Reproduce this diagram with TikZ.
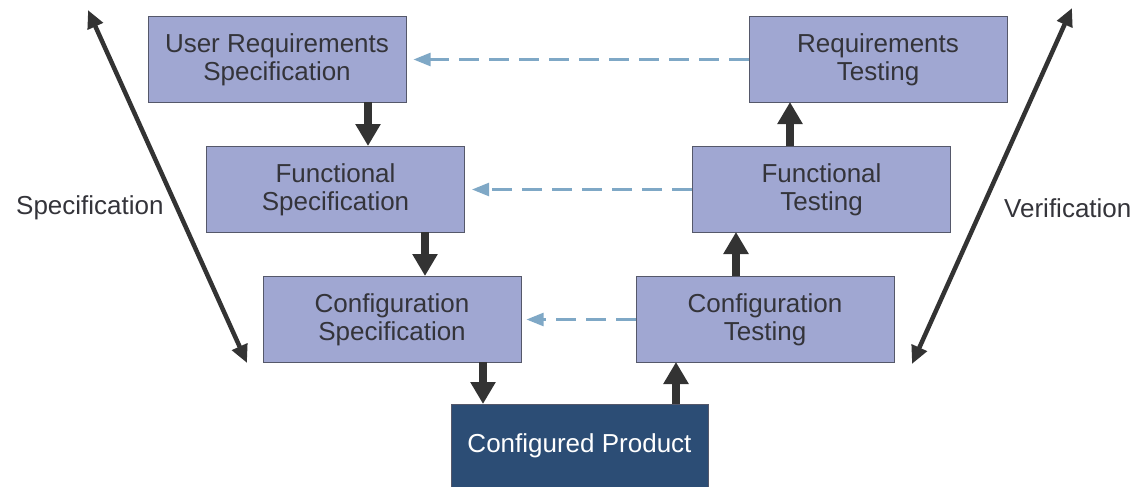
\documentclass[tikz,border=0pt]{standalone}
\usepackage{fontspec}
\setmainfont{Liberation Sans}
\usetikzlibrary{arrows.meta}
\definecolor{boxfill}{HTML}{A0A7D2}
\definecolor{boxline}{HTML}{55586A}
\definecolor{darkfill}{HTML}{2C4D75}
\definecolor{dashcol}{HTML}{7FA8C6}
\definecolor{arrcol}{HTML}{333333}
\definecolor{txtcol}{HTML}{34343A}
\tikzset{
  stagebox/.style={draw=boxline, line width=1pt, fill=boxfill, minimum width=258pt, minimum height=86pt,
    inner sep=0pt, align=center, text=txtcol, font=\fontsize{26}{28}\selectfont},
  prodbox/.style={draw=boxline, line width=1pt, fill=darkfill, minimum width=257pt, minimum height=84pt,
    inner sep=0pt, align=center, text=white, font=\fontsize{26}{28}\selectfont},
  blockarrow/.style={draw=arrcol, line width=8pt, -{Triangle[width=24pt,length=22pt]}, arrcol},
  trace/.style={draw=dashcol, line width=2.4pt, dash pattern=on 20pt off 10pt, -{Triangle[width=13pt,length=17pt]}, dashcol},
  phase/.style={draw=arrcol, line width=4.5pt, {Triangle[width=16pt,length=18pt]}-{Triangle[width=16pt,length=18pt]}, arrcol},
  sidelabel/.style={text=txtcol, font=\fontsize{26}{28}\selectfont, inner sep=0pt}
}
\begin{document}
\begin{tikzpicture}[x=1pt,y=-1pt]
\useasboundingbox (0,0) rectangle (1136,487);
\node[stagebox] (urs) at (277,59.5) {User Requirements\\Specification};
\node[stagebox] (fs)  at (335.5,189.5) {Functional\\Specification};
\node[stagebox] (cs)  at (392,319.5) {Configuration\\Specification};
\node[stagebox] (rt)  at (878,59.5) {Requirements\\Testing};
\node[stagebox] (ft)  at (821.5,189.5) {Functional\\Testing};
\node[stagebox] (ct)  at (765,319.5) {Configuration\\Testing};
\node[prodbox, minimum height=90pt] (cp) at (579.5,449) {};
\node[text=white, font=\fontsize{26}{28}\selectfont, inner sep=0pt] (cptxt) at (579.5,446) {Configured Product};

% block arrows
\draw[blockarrow] (368,102) -- (368,146);
\draw[blockarrow] (425,232) -- (425,276);
\draw[blockarrow] (483,362) -- (483,404);
\draw[blockarrow] (676,404) -- (676,362);
\draw[blockarrow] (736,276) -- (736,232);
\draw[blockarrow] (790,146) -- (790,102);

% dashed trace arrows
\draw[trace] (rt.west) -- ([xshift=7pt]urs.east);
\draw[trace] (ft.west) -- ([xshift=7pt]fs.east);
\draw[trace] (ct.west) -- ([xshift=5pt]cs.east);

% phase arrows
\coordinate (lt) at (88,10);
\coordinate (lb) at (247,363);
\coordinate (rtop) at (1072,8);
\coordinate (rb) at (912,364);
\draw[phase] (lt) -- (lb);
\draw[phase] (rtop) -- (rb);
\node[sidelabel, anchor=west] (spec) at (16,208) {Specification};
\node[sidelabel, anchor=west] (veri) at (1004,208) {Verification};
\end{tikzpicture}
\end{document}
